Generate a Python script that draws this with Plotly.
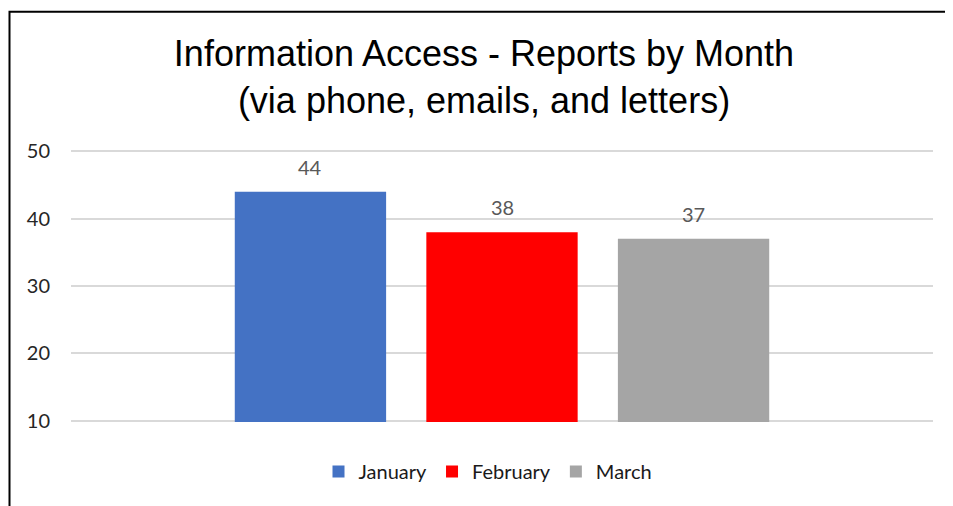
import plotly.graph_objects as go

months = ["January", "February", "March"]
reports = [44, 38, 37]
colors = ["#4472C4", "#FF0000", "#A5A5A5"]
y_ticks = [10, 20, 30, 40, 50]
y_range = [9.8, 50.2]

# page body has an 8px margin; figure coordinates are reference pixels minus 8
OFF = 8
W, H = 953 - OFF, 506 - OFF
PL, PR = 71, 933            # plot area x in reference pixels
Y_TOP, Y_BOT = 151, 421     # pixel rows of ticks 50 and 10 in the reference
ppu = (Y_BOT - Y_TOP) / (y_ticks[-1] - y_ticks[0])
PT = Y_TOP - (y_range[1] - y_ticks[-1]) * ppu
PB = Y_BOT + (y_ticks[0] - y_range[0]) * ppu
pw, ph = PR - PL, PB - PT

fig = go.Figure()
for m, v, c in zip(months, reports, colors):
    fig.add_trace(go.Bar(x=[m], y=[v], name=m, marker=dict(color=c, line=dict(width=0)),
                         width=0.79, hoverinfo="skip"))

for m, v in zip(months, reports):
    fig.add_annotation(x=m, y=v, xref="x", yref="y", text=str(v), showarrow=False,
                       yshift=25, font=dict(family="Lato", size=20, color="#595959"))

def px_to_paper_x(px):
    return (px - PL) / pw

def px_to_paper_y(py):
    return (PB - py) / ph

fig.add_shape(type="rect", xref="paper", yref="paper",
              x0=px_to_paper_x(9.5), x1=px_to_paper_x(1000),
              y0=px_to_paper_y(560), y1=px_to_paper_y(11),
              line=dict(color="#000000", width=2), fillcolor="rgba(0,0,0,0)", layer="above")

fig.update_layout(
    width=W, height=H,
    margin=dict(l=PL - OFF, r=W - (PR - OFF), t=PT - OFF, b=H - (PB - OFF)),
    paper_bgcolor="white", plot_bgcolor="white",
    barmode="overlay",
    title=dict(text="Information Access - Reports by Month<br>(via phone, emails, and letters)",
               x=(484 - OFF) / W, xref="container", xanchor="center",
               y=1 - 58 / H, yref="container", yanchor="top",
               font=dict(family="Liberation Sans", size=36, color="#000000")),
    xaxis=dict(type="category", categoryarray=months, range=[-1.25, 3.25],
               showticklabels=False, showgrid=False, zeroline=False, showline=False, ticks=""),
    yaxis=dict(range=y_range, tickvals=y_ticks, showgrid=True, gridcolor="#d9d9d9", gridwidth=1.5,
               zeroline=False, showline=False, ticks="", ticklabelstandoff=20,
               tickfont=dict(family="Lato", size=20, color="#262626")),
    legend=dict(orientation="h", x=px_to_paper_x(488), xanchor="center",
                y=px_to_paper_y(472), yanchor="middle",
                font=dict(family="Lato", size=20, color="#1a1a1a"),
                itemclick=False, bgcolor="rgba(0,0,0,0)"),
    showlegend=True,
)

fig.write_html("out.html")
